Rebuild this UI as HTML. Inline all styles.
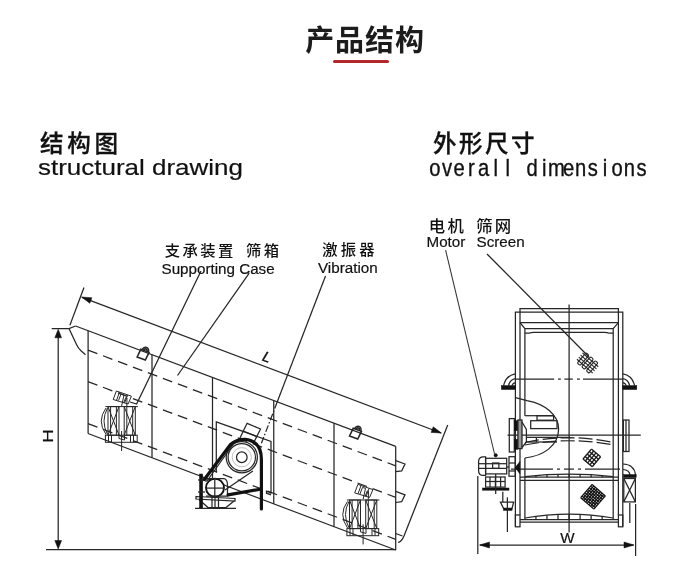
<!DOCTYPE html>
<html lang="zh-CN"><head><meta charset="utf-8"><title>产品结构</title>
<style>
html,body{margin:0;padding:0;background:#fff;}
body{width:700px;height:577px;position:relative;overflow:hidden;font-family:"Liberation Sans","Noto Sans CJK SC",sans-serif;color:#1a1a1a;}
.abs{position:absolute;white-space:nowrap;line-height:1;}
#title{left:0;width:730px;text-align:center;top:27px;font-size:29px;font-weight:700;letter-spacing:0.9px;color:#1c1c1c;}
#bar{position:absolute;left:333px;top:59.5px;width:56px;height:3px;border-radius:1.5px;background:#b3262b;}
.hcn{font-size:23.6px;color:#111;font-weight:500;-webkit-text-stroke:0.3px #111;}
.hen{font-size:22.4px;color:#111;-webkit-text-stroke:0.2px #111;transform-origin:0 0;transform:scaleX(1.16);}
svg{position:absolute;left:0;top:0;will-change:transform;}
.abs{will-change:transform;}
svg line,svg polyline,svg path,svg circle,svg rect,svg polygon,svg ellipse{fill:none;stroke:#262626;stroke-width:1.25;}
svg .fill{fill:#111;stroke:#111;stroke-width:0.5;}
svg .dash{stroke-dasharray:10 6;}
svg .cdash{stroke-dasharray:22 3 5 3;}
svg .cdash2{stroke-dasharray:14 4;}
svg .dashdot{stroke-dasharray:7 2 1.5 2;}
svg .thin{stroke-width:1.05;stroke:#333;}
svg .hbar{fill:#fff;stroke:#111;stroke-width:1.4;}
svg .gray{fill:#999;stroke:#222;}
svg .hatch line,svg .hatch rect{stroke-width:1.1;}
svg .hatchb line{stroke-width:1.35;stroke:#1a1a1a;}
svg .hatch2 line{stroke-width:1.25;stroke:#111;}
svg text.en{font-size:15.2px;stroke:#111;stroke-width:0.2px;}
svg text.it{font-style:italic;}
svg text.cn2{font-size:16.4px;font-weight:500;}
svg .wfill{fill:#fff;}
svg .m2{stroke-width:1.9;stroke:#111;}
svg .sp line,svg .sp rect,svg .sp path,svg .sp polyline,svg .sp polygon{stroke-width:1;}
svg .faint{stroke:#999;stroke-width:0.6;}
svg .thick{stroke-width:3.2;stroke:#111;stroke-linejoin:round;stroke-linecap:round;}
svg text{fill:#111;stroke:none;font-family:"Liberation Sans","Noto Sans CJK SC",sans-serif;}
svg text.mono{font-family:"Liberation Sans",sans-serif;font-size:23.5px;stroke:#111;stroke-width:0.35px;}
svg text.cn{font-weight:500;font-size:15.3px;}
</style></head><body>
<div id="title" class="abs">产品结构</div><div id="bar"></div>
<div class="abs hcn" style="left:39.5px;top:132.6px;letter-spacing:3.7px;">结构图</div>
<div class="abs hen" style="left:38.2px;top:157.2px;">structural drawing</div>
<div class="abs hcn" style="left:432.5px;top:132.8px;letter-spacing:2.4px;">外形尺寸</div>
<svg width="700" height="577" viewBox="0 0 700 577">
<g id="left">
<line x1="46" y1="549.5" x2="396" y2="549.5"/>
<line x1="58.2" y1="333" x2="58.2" y2="545"/>
<polygon points="58.2,329.3 61.6,337.8 54.8,337.8" class="fill"/>
<polygon points="58.2,549 54.8,540.5 61.6,540.5" class="fill"/>
<polyline points="51.7,328.5 69,328.5 75.6,326"/>
<path d="M69,328.6 L76.5,344.5 Q78.2,348.2 81,350.7 L85.5,354.7"/>
<line x1="69.9" y1="325.2" x2="84" y2="287.5"/>
<line x1="447.7" y1="425" x2="404" y2="536"/>
<path d="M404,536 Q401.5,542 398,542.5"/>
<line x1="82" y1="297.3" x2="441" y2="433"/>
<polygon points="81.5,297 91.92,297.72 89.8,303.33" class="fill"/>
<polygon points="441.5,433.1 431.08,432.38 433.2,426.77" class="fill"/>
<line x1="75.6" y1="326" x2="395.7" y2="446.3"/>
<line x1="88" y1="433.5" x2="395.7" y2="550"/>
<line x1="88.1" y1="330.7" x2="88.1" y2="433.5"/>
<line x1="395.7" y1="446.3" x2="395.7" y2="550"/>
<line x1="152" y1="354.71" x2="152" y2="457.73"/>
<line x1="212.5" y1="377.45" x2="212.5" y2="480.64"/>
<line x1="273.75" y1="400.47" x2="273.75" y2="503.83"/>
<line x1="334" y1="423.11" x2="334" y2="526.64"/>
<line x1="88" y1="350.16" x2="395.7" y2="465.8" class="dash"/>
<line x1="88" y1="381.66" x2="395.7" y2="497.3" class="dash"/>
<line x1="88" y1="423.66" x2="395.7" y2="539.3" class="dash"/>
</g>
<g id="leftdetail">
<g transform="translate(144.6,354.2) rotate(20.46) scale(1.25)"><path d="M-4.2,-2.6 L2.8,-2.6 L2.2,4.2 L-4.8,4.2 Z"/><path d="M-3,-2.6 A2.6,3 0 0 1 2.2,-2.6"/><path d="M-1.8,-2.6 A1.4,1.7 0 0 1 1,-2.6"/></g>
<g transform="translate(357,433.2) rotate(20.46) scale(1.25)"><path d="M-4.2,-2.6 L2.8,-2.6 L2.2,4.2 L-4.8,4.2 Z"/><path d="M-3,-2.6 A2.6,3 0 0 1 2.2,-2.6"/><path d="M-1.8,-2.6 A1.4,1.7 0 0 1 1,-2.6"/></g>
<g class="sp" transform="translate(0,0)">
<line x1="105.4" y1="406.6" x2="137.9" y2="406.6"/>
<rect x="108" y="406.6" width="11" height="28.6"/>
<line x1="108" y1="406.6" x2="119" y2="435.2"/>
<line x1="119" y1="406.6" x2="108" y2="435.2"/>
<line x1="110.6" y1="406.6" x2="110.6" y2="435.2"/>
<line x1="116.4" y1="406.6" x2="116.4" y2="435.2"/>
<rect x="124.2" y="406.6" width="11.1" height="28.6"/>
<line x1="124.2" y1="406.6" x2="135.3" y2="435.2"/>
<line x1="135.3" y1="406.6" x2="124.2" y2="435.2"/>
<line x1="126.8" y1="406.6" x2="126.8" y2="435.2"/>
<line x1="132.7" y1="406.6" x2="132.7" y2="435.2"/>
<path d="M106,408 Q96.5,421 106,434.5"/>
<path d="M107.5,408 Q100.5,421 107.5,434.5"/>
<rect x="105.4" y="435.2" width="31.8" height="7.1"/>
<line x1="108.5" y1="435.2" x2="108.5" y2="442.3"/>
<line x1="111.5" y1="435.2" x2="111.5" y2="442.3"/>
<line x1="130.5" y1="435.2" x2="130.5" y2="442.3"/>
<line x1="133.5" y1="435.2" x2="133.5" y2="442.3"/>
<line x1="121.6" y1="431" x2="121.6" y2="451"/>
<polyline points="119,435.2 119,438.5 124.5,440 124.5,435.2"/>
<polygon points="116.4,391 131.4,396.2 128.1,404 113.2,399.5"/>
<polyline points="119.5,392.2 116.5,400.4"/>
<polyline points="127.6,395 124.6,403"/>
<path d="M118.5,400.5 L121,394 L124,395 L121.6,406"/>
<path d="M123.6,403 L125.8,397.5 L127,398 L126.8,406"/>
</g>
<g class="sp" transform="translate(241.5,93.4)">
<line x1="105.4" y1="406.6" x2="137.9" y2="406.6"/>
<rect x="108" y="406.6" width="11" height="28.6"/>
<line x1="108" y1="406.6" x2="119" y2="435.2"/>
<line x1="119" y1="406.6" x2="108" y2="435.2"/>
<line x1="110.6" y1="406.6" x2="110.6" y2="435.2"/>
<line x1="116.4" y1="406.6" x2="116.4" y2="435.2"/>
<rect x="124.2" y="406.6" width="11.1" height="28.6"/>
<line x1="124.2" y1="406.6" x2="135.3" y2="435.2"/>
<line x1="135.3" y1="406.6" x2="124.2" y2="435.2"/>
<line x1="126.8" y1="406.6" x2="126.8" y2="435.2"/>
<line x1="132.7" y1="406.6" x2="132.7" y2="435.2"/>
<path d="M106,408 Q96.5,421 106,434.5"/>
<path d="M107.5,408 Q100.5,421 107.5,434.5"/>
<rect x="105.4" y="435.2" width="31.8" height="7.1"/>
<line x1="108.5" y1="435.2" x2="108.5" y2="442.3"/>
<line x1="111.5" y1="435.2" x2="111.5" y2="442.3"/>
<line x1="130.5" y1="435.2" x2="130.5" y2="442.3"/>
<line x1="133.5" y1="435.2" x2="133.5" y2="442.3"/>
<line x1="121.6" y1="431" x2="121.6" y2="451"/>
<polyline points="119,435.2 119,438.5 124.5,440 124.5,435.2"/>
<polygon points="116.4,391 131.4,396.2 128.1,404 113.2,399.5"/>
<polyline points="119.5,392.2 116.5,400.4"/>
<polyline points="127.6,395 124.6,403"/>
<path d="M118.5,400.5 L121,394 L124,395 L121.6,406"/>
<path d="M123.6,403 L125.8,397.5 L127,398 L126.8,406"/>
</g>
<polyline points="395.7,460.6 405,464 401.7,470.9 395.7,471.7"/>
<polyline points="395.7,491.4 405,494.8 401.7,501.7 395.7,502.5"/>
<polyline points="395.7,533.5 402.5,536"/>
<polyline points="216.3,472.5 216.3,421.8 271,441.4 271,493.8"/>
<polyline points="271,494.8 266.5,493.2 266.5,491.2 271,492.8"/>
<circle cx="241.8" cy="457.2" r="15.6" class="wfill"/>
<circle cx="241.8" cy="457.2" r="13.7"/>
<circle cx="241.8" cy="457.2" r="5.3"/>
<circle cx="241.8" cy="457.2" r="9.6" class="faint"/>
<polygon points="247.1,423.3 260.5,429 256.7,436.7 243.3,431"/>
<line x1="243.3" y1="431" x2="238.5" y2="441.2"/>
<line x1="256.7" y1="436.7" x2="254" y2="442"/>
<line x1="252.9" y1="471" x2="225" y2="490"/>
<line x1="233" y1="444.5" x2="207" y2="481"/>
<circle cx="215" cy="487.8" r="9" class="wfill m2"/>
<line x1="214.8" y1="480" x2="214.8" y2="497"/>
<line x1="206" y1="488.1" x2="224" y2="488.1"/>
<path d="M206,482 L206,478.5 L224,478.5 Q227.5,479.5 227.5,485 L227.5,496 L206,496"/>
<polygon points="196,496.5 235,498.5 235,501 196,499"/>
<polyline points="199,499.5 208,507.5 226,507.5 234,501"/>
<line x1="195" y1="508.3" x2="236" y2="508.3"/>
<line x1="212" y1="497" x2="212" y2="508"/>
<line x1="215" y1="497" x2="215" y2="508"/>
<line x1="218.5" y1="497" x2="218.5" y2="508"/>
<rect x="199.5" y="474" width="3.2" height="34" class="fill"/>
<line x1="198" y1="480" x2="205" y2="480"/>
<line x1="198" y1="492" x2="205" y2="492"/>
<path d="M204.3,479.5 L230.5,444.5 Q236,439.2 245,439.3 Q261.4,441 261.4,459.5 L261.4,509" class="thick"/>
<path d="M228.1,494.8 L261.4,489" class="thick"/>
</g>
<g id="right">
<polyline points="515.4,526.5 515.4,312 622.8,312 622.8,526.5"/>
<polyline points="520,515 520,308.7 618.4,308.7 618.4,515"/>
<line x1="520" y1="322.7" x2="618.4" y2="322.7"/>
<polyline points="524.9,415.7 524.9,328.6 613.2,328.6 613.2,519"/>
<line x1="520" y1="322.7" x2="524.9" y2="328.6"/>
<line x1="618.4" y1="322.7" x2="613.2" y2="328.6"/>
<path d="M524.9,333.2 L528.9,333.2 Q530.9,332.3 533.9,332.3 L604.2,332.3 Q607.2,332.3 609.2,333.2 L613.2,333.2"/>
<line x1="524.9" y1="458" x2="524.9" y2="519"/>
<line x1="569.1" y1="304.6" x2="569.1" y2="532.5"/>
<line x1="515.4" y1="379.1" x2="554.2" y2="379.1"/>
<line x1="558" y1="379.1" x2="560.8" y2="379.1"/>
<line x1="564.4" y1="379.1" x2="572.8" y2="379.1"/>
<line x1="577" y1="379.1" x2="579.8" y2="379.1"/>
<line x1="583" y1="379.1" x2="622.8" y2="379.1"/>
<line x1="507.5" y1="435" x2="640.8" y2="435"/>
<line x1="511" y1="469.1" x2="553" y2="469.1"/>
<line x1="557" y1="469.1" x2="560" y2="469.1"/>
<line x1="564" y1="469.1" x2="574" y2="469.1"/>
<line x1="578" y1="469.1" x2="581" y2="469.1"/>
<line x1="585" y1="469.1" x2="620" y2="469.1"/>
<path d="M515.4,373.9 Q505.9,375.5 503.6,385.6"/>
<path d="M515.4,378.6 Q509.8,379.6 508.6,385.6"/>
<path d="M515.4,382.6 Q512.6,383.2 511.8,385.6"/>
<rect x="501.4" y="385.6" width="14" height="3.9" class="fill"/>
<path d="M622.8,373.9 Q632.3,375.5 634.6,385.6"/>
<path d="M622.8,378.6 Q628.4,379.6 629.6,385.6"/>
<path d="M622.8,382.6 Q625.6,383.2 626.4,385.6"/>
<rect x="622.8" y="385.6" width="14" height="3.9" class="fill"/>
<path d="M515.4,397.6 L527,400.7 C545,404 558.6,415 558.6,429 C558.6,446 543,456 524.9,458"/>
<line x1="524.9" y1="415.7" x2="554" y2="415.7"/>
<rect x="537" y="415.7" width="16.6" height="4.5"/>
<rect x="530.7" y="420.7" width="26.3" height="7.9"/>
<line x1="527" y1="437.4" x2="570" y2="437.4"/>
<line x1="527" y1="442" x2="557" y2="442"/>
<line x1="536.4" y1="437.4" x2="536.4" y2="442"/>
<rect x="509.3" y="418.6" width="5" height="33.4"/>
<rect x="514.3" y="420.7" width="3.6" height="10" class="fill"/>
<rect x="514.3" y="439.3" width="3.6" height="10" class="fill"/>
<rect x="517.9" y="420" width="4.1" height="28.6" class="gray"/>
<path d="M522,422 L526.4,429.5 L526.4,442 L522,447.5"/>
<path d="M524.9,442.5 Q569.1,433 613.2,442.5" class="cdash2"/>
<path d="M524.9,445 Q569.1,436.5 613.2,445" class="cdash2"/>
<path d="M524.9,476.6 Q569.1,471.8 613.2,476.6"/>
<line x1="520" y1="477.2" x2="618.4" y2="477.2"/>
<line x1="520" y1="480.3" x2="618.4" y2="480.3"/>
<line x1="535.94" y1="475.55" x2="535.94" y2="477.2"/>
<line x1="546.98" y1="474.8" x2="546.98" y2="477.2"/>
<line x1="558.01" y1="474.35" x2="558.01" y2="477.2"/>
<line x1="569.05" y1="474.2" x2="569.05" y2="477.2"/>
<line x1="580.09" y1="474.35" x2="580.09" y2="477.2"/>
<line x1="591.12" y1="474.8" x2="591.12" y2="477.2"/>
<line x1="602.16" y1="475.55" x2="602.16" y2="477.2"/>
<path d="M524.9,518 Q569.1,510.4 613.2,518"/>
<line x1="520" y1="519.6" x2="618.4" y2="519.6"/>
<line x1="520" y1="522.2" x2="618.4" y2="522.2"/>
<line x1="535.94" y1="516.34" x2="535.94" y2="519.6"/>
<line x1="546.98" y1="515.15" x2="546.98" y2="519.6"/>
<line x1="558.01" y1="514.44" x2="558.01" y2="519.6"/>
<line x1="569.05" y1="514.2" x2="569.05" y2="519.6"/>
<line x1="580.09" y1="514.44" x2="580.09" y2="519.6"/>
<line x1="591.12" y1="515.15" x2="591.12" y2="519.6"/>
<line x1="602.16" y1="516.34" x2="602.16" y2="519.6"/>
<rect x="515.4" y="515" width="4.6" height="11.8"/>
<rect x="618.4" y="515" width="4.4" height="11.8"/>
<rect x="623.4" y="420" width="5.6" height="31.5"/>
<line x1="626" y1="420" x2="626" y2="451.5"/>
<path d="M623,464 Q634.5,464.5 635.5,475"/>
<path d="M623,469.5 Q629.5,470 630,475"/>
<rect x="623.4" y="474.6" width="12.8" height="3" class="fill"/>
<rect x="623.8" y="478.5" width="11.6" height="23.4"/>
<line x1="623.8" y1="478.5" x2="635.4" y2="501.9"/>
<line x1="635.4" y1="478.5" x2="623.8" y2="501.9"/>
<line x1="629.8" y1="503" x2="629.8" y2="523"/>
<path d="M485.6,456.9 L482.5,456.9 Q478.6,457.5 478.6,461.5 L478.6,470.5 Q478.6,475.2 482.5,475.4 L485.6,475.4 Z"/>
<rect x="485.6" y="458.3" width="21.1" height="15.6"/>
<line x1="478.6" y1="463.7" x2="506.7" y2="463.7"/>
<line x1="478.6" y1="468.4" x2="506.7" y2="468.4"/>
<rect x="492.6" y="463" width="6.3" height="5.4"/>
<circle cx="495.7" cy="455.3" r="1.7" class="fill"/>
<rect x="485.6" y="477" width="19.5" height="10.1"/>
<line x1="490" y1="477" x2="490" y2="487.1"/>
<line x1="495.4" y1="477" x2="495.4" y2="487.1"/>
<line x1="500.6" y1="477" x2="500.6" y2="487.1"/>
<line x1="485.6" y1="481.5" x2="505.1" y2="481.5"/>
<rect x="482.5" y="488" width="26.5" height="2.2" class="fill"/>
<line x1="495.7" y1="473.9" x2="495.7" y2="494"/>
<rect x="509" y="456.7" width="6.2" height="19.5"/>
<line x1="509" y1="463" x2="515.2" y2="463"/>
<line x1="509" y1="471" x2="515.2" y2="471"/>
<polygon points="515.2,467.6 519.9,461.4 519.9,473.9" class="fill"/>
<line x1="506.7" y1="467" x2="509" y2="467"/>
<polygon points="500.4,502 513.7,502 512,508.3 503.5,508.3"/>
<rect x="503.5" y="508.6" width="8.6" height="1.8" class="fill"/>
<line x1="502.8" y1="491.8" x2="502.8" y2="502"/>
<line x1="507.4" y1="497.3" x2="507.4" y2="532"/>
<line x1="477.8" y1="476" x2="477.8" y2="554"/>
<line x1="635.6" y1="504" x2="635.6" y2="556"/>
<line x1="480" y1="545" x2="633.5" y2="545"/>
<polygon points="479.5,545 489.5,542 489.5,548" class="fill"/>
<polygon points="634,545 624,548 624,542" class="fill"/>
<g transform="translate(587.6,363) rotate(41)" class="hatch"><line x1="-10.5" y1="-4.2" x2="10.5" y2="-4.2"/><line x1="-10.5" y1="-1.4" x2="10.5" y2="-1.4"/><line x1="-10.5" y1="1.4" x2="10.5" y2="1.4"/><line x1="-10.5" y1="4.2" x2="10.5" y2="4.2"/><rect x="-7.9" y="-6.8" width="3.8" height="13.6" rx="1.2"/><rect x="-1.9" y="-6.8" width="3.8" height="13.6" rx="1.2"/><rect x="4.1" y="-6.8" width="3.8" height="13.6" rx="1.2"/></g>
<g transform="translate(591.8,457.9) rotate(-50)" class="hatchb">
<line x1="-6.5" y1="-6" x2="6.5" y2="-6"/>
<line x1="-6.5" y1="-3" x2="6.5" y2="-3"/>
<line x1="-6.5" y1="0" x2="6.5" y2="0"/>
<line x1="-6.5" y1="3" x2="6.5" y2="3"/>
<line x1="-6.5" y1="6" x2="6.5" y2="6"/>
<line x1="-6.5" y1="-6" x2="-6.5" y2="6"/>
<line x1="-3.25" y1="-6" x2="-3.25" y2="6"/>
<line x1="0" y1="-6" x2="0" y2="6"/>
<line x1="3.25" y1="-6" x2="3.25" y2="6"/>
<line x1="6.5" y1="-6" x2="6.5" y2="6"/>
</g>
<g transform="translate(593,496.8) rotate(41)" class="hatch2">
<line x1="-8.75" y1="-8.75" x2="8.75" y2="-8.75"/>
<line x1="-8.75" y1="-6.56" x2="8.75" y2="-6.56"/>
<line x1="-8.75" y1="-4.38" x2="8.75" y2="-4.38"/>
<line x1="-8.75" y1="-2.19" x2="8.75" y2="-2.19"/>
<line x1="-8.75" y1="0" x2="8.75" y2="0"/>
<line x1="-8.75" y1="2.19" x2="8.75" y2="2.19"/>
<line x1="-8.75" y1="4.38" x2="8.75" y2="4.38"/>
<line x1="-8.75" y1="6.56" x2="8.75" y2="6.56"/>
<line x1="-8.75" y1="8.75" x2="8.75" y2="8.75"/>
<line x1="-8.75" y1="-8.75" x2="-8.75" y2="8.75"/>
<line x1="-6.56" y1="-8.75" x2="-6.56" y2="8.75"/>
<line x1="-4.38" y1="-8.75" x2="-4.38" y2="8.75"/>
<line x1="-2.19" y1="-8.75" x2="-2.19" y2="8.75"/>
<line x1="0" y1="-8.75" x2="0" y2="8.75"/>
<line x1="2.19" y1="-8.75" x2="2.19" y2="8.75"/>
<line x1="4.38" y1="-8.75" x2="4.38" y2="8.75"/>
<line x1="6.56" y1="-8.75" x2="6.56" y2="8.75"/>
<line x1="8.75" y1="-8.75" x2="8.75" y2="8.75"/>
</g>
</g>
<text class="mono" text-anchor="middle" transform="translate(0,175.8) scale(0.86,1)" x="505.7 519.83 533.95 548.08 562.21 576.34 590.47 604.59 618.72 632.85 646.98 661.1 675.23 689.36 703.49 717.62 731.74 745.87" y="0">overall dimensions</text>
<g id="labels">
<path d="M201,271 L136.6,404 L130,402"/>
<line x1="249.2" y1="273.2" x2="177.5" y2="375.5"/>
<line x1="325.5" y1="276" x2="277.2" y2="402"/>
<line x1="277.2" y1="402" x2="261.4" y2="443.3" class="dashdot"/>
<line x1="445.6" y1="250.2" x2="494.8" y2="455" class="thin"/>
<line x1="487" y1="254" x2="589" y2="357"/>
<text class="cn" x="164.8" y="255.6" style="letter-spacing:2.4px">支承装置 <tspan x="246">筛箱</tspan></text>
<text class="en" x="161.5" y="274">Supporting Case</text>
<text class="cn" x="322.2" y="255.2" style="letter-spacing:3.2px">激振器</text>
<text class="en" x="318" y="272.6">Vibration</text>
<text class="cn2" x="428.8" y="232.2" style="letter-spacing:2.2px">电机</text>
<text class="cn2" x="476.2" y="232.2" style="letter-spacing:2.2px">筛网</text>
<text class="en" x="426.5" y="246.6">Motor</text>
<text class="en" x="476.5" y="246.6">Screen</text>
<text class="en it" text-anchor="middle" style="font-size:14.2px;stroke-width:0.4px" transform="translate(265.2,361.6) rotate(20)">L</text>
<text class="en" text-anchor="middle" transform="translate(53.3,436) rotate(-90) scale(1.22,1)">H</text>
<text class="en" text-anchor="middle" x="567.5" y="542.5">W</text>
</g>
</svg>
</body></html>
